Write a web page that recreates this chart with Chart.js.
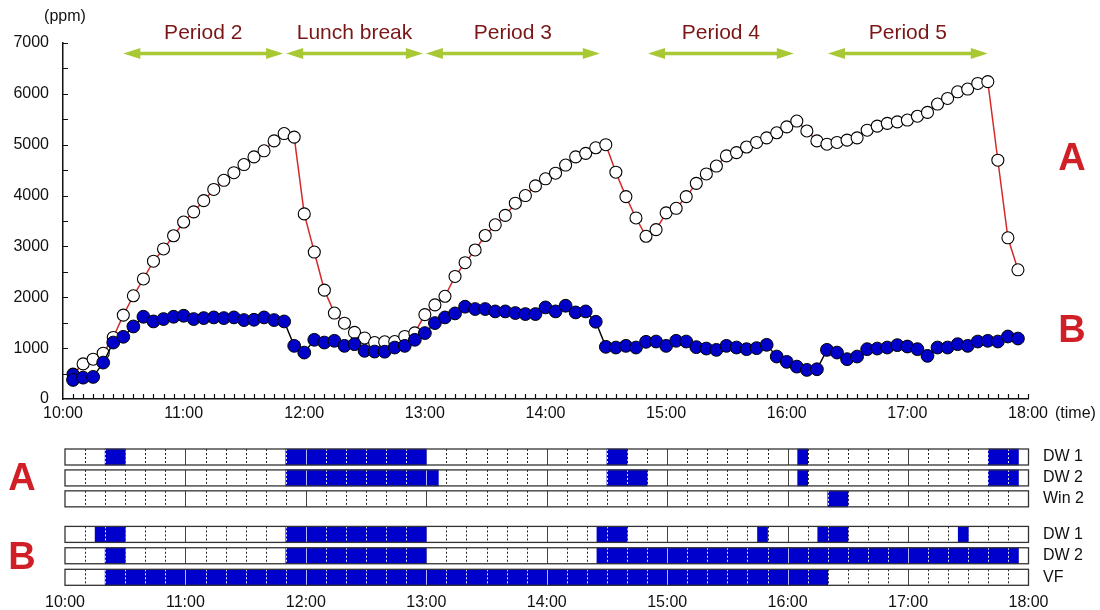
<!DOCTYPE html>
<html><head><meta charset="utf-8">
<script src="https://cdn.jsdelivr.net/npm/chart.js@4.4.1/dist/chart.umd.min.js"></script>
<style>
html,body{margin:0;padding:0;background:#fff;width:1100px;height:610px;overflow:hidden;}
#top{position:absolute;left:0;top:0;}
#bot{position:absolute;left:0;top:430px;}
</style></head><body>
<canvas id="top" width="1100" height="430"></canvas>
<canvas id="bot" width="1100" height="180"></canvas>
<script>
const FONT = '"Liberation Sans", Arial, Helvetica, sans-serif';

// ---- data ----
// sample times, minutes after 10:00
const minutes = [5,10,15,20,25,30,35,40,45,50,55,60,65,70,75,80,85,90,95,100,105,110,115,120,125,130,135,140,145,150,155,160,165,170,175,180,185,190,195,200,205,210,215,220,225,230,235,240,245,250,255,260,265,270,275,280,285,290,295,300,305,310,315,320,325,330,335,340,345,350,355,360,365,370,375,380,385,390,395,400,405,410,415,420,425,430,435,440,445,450,455,460,465,470,475];
// CO2 (ppm), classroom A
const seriesA = [490,690,783,900,1210,1650,2030,2360,2710,2950,
  3210,3480,3680,3900,4120,4300,4450,4610,4760,4880,
  5075,5220,5150,3640,2890,2140,1690,1490,1310,1200,
  1110,1125,1130,1230,1300,1660,1850,2020,2410,2680,
  2930,3215,3425,3610,3850,4000,4190,4330,4440,4600,
  4760,4830,4940,5000,4460,3980,3560,3200,3330,3660,
  3750,3980,4240,4425,4580,4780,4845,4955,5045,5135,
  5235,5350,5465,5270,5075,5010,5045,5090,5135,5285,
  5365,5420,5450,5485,5560,5635,5800,5910,6040,6095,
  6205,6240,4695,3170,2540];
// CO2 (ppm), classroom B
const seriesB = [375,420,434,716,1110,1223,1426,1617,1525,1572,
  1617,1637,1572,1591,1604,1591,1604,1552,1558,1604,
  1552,1525,1045,913,1164,1110,1144,1045,1078,947,
  933,930,1012,1045,1164,1296,1493,1604,1683,1815,
  1769,1769,1722,1722,1690,1670,1670,1801,1722,1834,
  1702,1722,1519,1026,1012,1045,1012,1124,1130,1045,
  1144,1130,1020,992,966,1045,1012,980,1000,1065,
  835,730,637,572,585,966,913,783,835,980,
  992,1012,1059,1032,980,848,1012,1012,1078,1045,
  1130,1144,1130,1229,1189];
const hourLabels = ['10:00','11:00','12:00','13:00','14:00','15:00','16:00','17:00','18:00'];
const periodLabels = ['Period 2','Lunch break','Period 3','Period 4','Period 5'];
const periodStart = [30,111,180.5,291,380.5];
const periodEnd = [109.5,179,267,363.5,460];
// opening intervals (minutes after 10:00)
const rowNames = ['DW 1','DW 2','Win 2','DW 1','DW 2','VF'];
const openA_DW1 = [[20,30],[110,180],[270,280],[365,370],[460,475]];
const openA_DW2 = [[110,186],[270,290],[365,370],[460,475]];
const openA_Win2 = [[380,390]];
const openB_DW1 = [[15,30],[110,180],[265,280],[345,350],[375,390],[445,450]];
const openB_DW2 = [[20,30],[110,180],[265,475]];
const openB_VF = [[20,380]];

// ---- layout ----
const rowPos = [0,1,2,3.7,4.72,5.75];
const RED = '#d01f26';
const BLUE = '#0000c8';

const topDeco = {
  id:'topDeco',
  afterDraw(chart){
    const ctx = chart.ctx, xs = chart.scales.x, ys = chart.scales.y;
    const y0 = ys.getPixelForValue(0), x0 = xs.getPixelForValue(0);
    ctx.save();
    ctx.strokeStyle = '#111'; ctx.lineWidth = 1.2;
    ctx.beginPath();
    for (let m = 5; m <= 480; m += 5){ const px = Math.round(xs.getPixelForValue(m))+0.5; ctx.moveTo(px,y0); ctx.lineTo(px,y0-5); }
    for (let v = 500; v <= 7000; v += 500){ const py = Math.round(ys.getPixelForValue(v))+0.5; ctx.moveTo(x0,py); ctx.lineTo(x0+5,py); }
    ctx.stroke();
    // periods
    const ay = 53.5;
    for (let i = 0; i < periodLabels.length; i++){
      const a = xs.getPixelForValue(periodStart[i]), b = xs.getPixelForValue(periodEnd[i]);
      ctx.strokeStyle = '#a8c834'; ctx.fillStyle = '#a8c834'; ctx.lineWidth = 3.5;
      ctx.beginPath(); ctx.moveTo(a+12,ay); ctx.lineTo(b-12,ay); ctx.stroke();
      ctx.beginPath(); ctx.moveTo(a,ay); ctx.lineTo(a+17,ay-5.5); ctx.lineTo(a+17,ay+5.5); ctx.closePath(); ctx.fill();
      ctx.beginPath(); ctx.moveTo(b,ay); ctx.lineTo(b-17,ay-5.5); ctx.lineTo(b-17,ay+5.5); ctx.closePath(); ctx.fill();
      ctx.fillStyle = '#7a1616'; ctx.font = '21px ' + FONT; ctx.textAlign = 'center'; ctx.textBaseline = 'middle';
      ctx.fillText(periodLabels[i], (a+b)/2, 33);
    }
    ctx.fillStyle = '#111'; ctx.font = '16px ' + FONT; ctx.textBaseline = 'middle';
    ctx.textAlign = 'center'; ctx.fillText('(ppm)', 65, 17);
    ctx.textAlign = 'left'; ctx.fillText('(time)', 1055, 414);
    ctx.fillStyle = RED; ctx.font = 'bold 38px ' + FONT; ctx.textAlign = 'center';
    ctx.fillText('A', 1072, 160);
    ctx.fillText('B', 1072, 332);
    ctx.restore();
  }
};

new Chart(document.getElementById('top'), {
  type:'line',
  data:{ datasets:[
    { label:'B', data: minutes.map((m,i)=>({x:m, y:seriesB[i]})), borderColor:'#000', borderWidth:1.4,
      pointRadius:6.4, pointBackgroundColor:BLUE, pointBorderColor:'#000', pointBorderWidth:1, order:0, tension:0 },
    { label:'A', data: minutes.map((m,i)=>({x:m, y:seriesA[i]})), borderColor:'#d42a2a', borderWidth:1.5,
      pointRadius:6, pointBackgroundColor: c => c.dataIndex === 0 ? BLUE : '#fff', pointBorderColor:'#000', pointBorderWidth:1.1, order:1, tension:0 }
  ]},
  options:{
    responsive:false, animation:false,
    layout:{padding:{top:43,right:72,left:0,bottom:0}},
    plugins:{legend:{display:false}, tooltip:{enabled:false}},
    scales:{
      x:{type:'linear', min:0, max:480,
        ticks:{stepSize:60, autoSkip:false, maxRotation:0, callback:v=>hourLabels[v/60], font:{family:FONT,size:16}, color:'#111', padding:5},
        grid:{display:true, drawOnChartArea:false, drawTicks:false},
        border:{display:true, color:'#111', width:1.5},
        afterFit:s=>{ s.height = 31; }},
      y:{type:'linear', min:0, max:7000,
        ticks:{stepSize:1000, callback:v=>String(v), font:{family:FONT,size:16}, color:'#111', padding:14},
        grid:{display:true, drawOnChartArea:false, drawTicks:false},
        border:{display:true, color:'#111', width:1.5},
        afterFit:s=>{ s.width = 63; }}
    }
  },
  plugins:[topDeco]
});

// ---- bottom chart ----
const openRows = [openA_DW1, openA_DW2, openA_Win2, openB_DW1, openB_DW2, openB_VF];
const half = 8;
const botDeco = {
  id:'botDeco',
  beforeDatasetsDraw(chart){
    const ctx = chart.ctx, xs = chart.scales.x, ys = chart.scales.y;
    const L = xs.getPixelForValue(0), R = xs.getPixelForValue(480);
    ctx.save();
    rowPos.forEach(p => {
      const yc = ys.getPixelForValue(p);
      ctx.fillStyle = '#fff'; ctx.fillRect(L, yc-half, R-L, half*2);
      ctx.lineWidth = 1;
      for (let m = 10; m < 480; m += 10){
        const px = Math.round(xs.getPixelForValue(m))+0.5;
        ctx.beginPath();
        if (m % 60 === 0){ ctx.setLineDash([]); ctx.strokeStyle = '#444'; }
        else { ctx.setLineDash([2,2]); ctx.strokeStyle = '#222'; }
        ctx.moveTo(px, yc-half); ctx.lineTo(px, yc+half); ctx.stroke();
      }
    });
    ctx.restore();
  },
  afterDatasetsDraw(chart){
    const ctx = chart.ctx, xs = chart.scales.x, ys = chart.scales.y;
    const L = xs.getPixelForValue(0), R = xs.getPixelForValue(480);
    ctx.save();
    chart.getDatasetMeta(0).data.forEach(el => {
      const {x, y, base, height} = el.getProps(['x','y','base','height'], true);
      const l = Math.min(x, base), r = Math.max(x, base);
      ctx.save();
      ctx.beginPath(); ctx.rect(l, y-height/2, r-l, height); ctx.clip();
      ctx.lineWidth = 1;
      for (let m = 10; m < 480; m += 10){
        const px = Math.round(xs.getPixelForValue(m))+0.5;
        ctx.beginPath();
        if (m % 60 === 0){ ctx.setLineDash([]); ctx.strokeStyle = '#b8b8ff'; }
        else { ctx.setLineDash([2,2]); ctx.strokeStyle = '#e8e8ff'; }
        ctx.moveTo(px, y-height/2); ctx.lineTo(px, y+height/2); ctx.stroke();
      }
      ctx.restore();
    });
    ctx.setLineDash([]);
    ctx.strokeStyle = '#333'; ctx.lineWidth = 1.3;
    rowPos.forEach(p => {
      const yc = ys.getPixelForValue(p);
      ctx.strokeRect(L, yc-half, R-L, half*2);
    });
    ctx.fillStyle = RED; ctx.font = 'bold 38px ' + FONT; ctx.textAlign = 'center'; ctx.textBaseline = 'middle';
    ctx.fillText('A', 22, 480-430);
    ctx.fillText('B', 22, 559-430);
    ctx.restore();
  }
};

const bot = new Chart(document.getElementById('bot'), {
  type:'bar',
  data:{ datasets:[{
    data: openRows.flatMap((segs, r) => segs.map(s => ({x:s, y:rowPos[r]}))),
    backgroundColor:'#0000cc', borderWidth:0, barThickness:16, clip:false
  }]},
  options:{
    indexAxis:'y', responsive:false, animation:false,
    layout:{padding:{top:16.5,left:65,right:0,bottom:0}},
    plugins:{legend:{display:false}, tooltip:{enabled:false}},
    scales:{
      x:{type:'linear', min:0, max:480,
        ticks:{stepSize:60, autoSkip:false, maxRotation:0, callback:v=>hourLabels[v/60], font:{family:FONT,size:16}, color:'#111', padding:7},
        grid:{display:true, drawOnChartArea:false, drawTicks:false},
        border:{display:false},
        afterFit:s=>{ s.height = 23.3; }},
      y:{type:'linear', position:'right', reverse:true, min:-0.5, max:6.2, offset:false,
        afterBuildTicks:s=>{ s.ticks = rowPos.map(v=>({value:v})); },
        ticks:{autoSkip:false, callback:(v,i)=>rowNames[i], font:{family:FONT,size:16}, color:'#111', padding:14.5},
        grid:{display:true, drawOnChartArea:false, drawTicks:false, offset:false},
        border:{display:false},
        afterFit:s=>{ s.width = 71.5; }}
    }
  },
  plugins:[botDeco]
});
// fit row centres to the reference layout (first row at y=457, last at y=577.3 on the page)
(function(){
  const ca = bot.chartArea;
  const firstY = 457 - 430, lastY = 577.3 - 430;
  const u = (lastY - firstY) / (rowPos[rowPos.length-1] - rowPos[0]);
  bot.options.scales.y.min = rowPos[0] - (firstY - ca.top) / u;
  bot.options.scales.y.max = rowPos[rowPos.length-1] + (ca.bottom - lastY) / u;
  bot.update('none');
})();
</script>
</body></html>
